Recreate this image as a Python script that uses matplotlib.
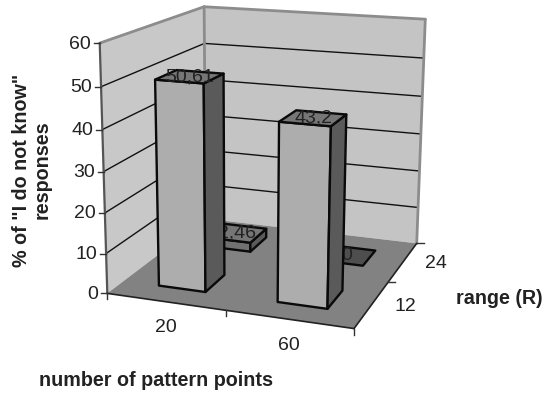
import numpy as np
import matplotlib
matplotlib.use('Agg')
import matplotlib.pyplot as plt
from matplotlib.patches import Polygon

plt.rcParams['font.family'] = ['Liberation Sans', 'DejaVu Sans']

# chart data
point_counts = ['20', '60']
ranges = ['12', '24']
responses_r12 = [50.61, 43.2]
responses_r24 = [2.46, 0]
z_ticks = [0, 10, 20, 30, 40, 50, 60]
z_max = 60

WALL_LEFT = '#c8c8c8'
WALL_BACK = '#c4c4c4'
FLOOR = '#828282'
EDGE = '#8c8c8c'
BAR_SIDE = '#5a5a5a'
BAR_TOP = '#767676'
BAR_WIDTH = 0.4
BAR_DEPTH = 0.4
BAR_SHIFT = 0.008

# box corners (column, row, height) and where they land on the canvas
corners_3d = np.array([(0, 0, 0), (2, 0, 0), (2, 2, 0), (0, 2, 0),
                       (0, 0, 1), (0, 2, 1), (2, 2, 1)], dtype=float)
corners_px = np.array([(108, 294), (354, 328), (417, 244), (205, 218),
                       (99, 43), (205, 7), (425, 19)], dtype=float)


def fit_camera(world, image):
    rows = []
    for (x, y, z), (u, v) in zip(world, image / 500):
        rows.append([x, y, z, 1, 0, 0, 0, 0, -u * x, -u * y, -u * z, -u])
        rows.append([0, 0, 0, 0, x, y, z, 1, -v * x, -v * y, -v * z, -v])
    return np.linalg.svd(np.array(rows))[2][-1].reshape(3, 4)


camera = fit_camera(corners_3d, corners_px)


def project(x, y, value):
    u, v, w = camera @ np.array([x, y, value / z_max, 1.0])
    return 500 * u / w, 500 * v / w


def face(ax, points, color, lw=0.0, edge='none', zorder=1):
    ax.add_patch(Polygon([project(*p) for p in points], closed=True, facecolor=color,
                         edgecolor=edge, linewidth=lw, joinstyle='round', zorder=zorder))


def segment(ax, a, b, color='#111111', lw=1.0, zorder=2):
    pa, pb = project(*a), project(*b)
    ax.plot([pa[0], pb[0]], [pa[1], pb[1]], color=color, lw=lw, zorder=zorder,
            solid_capstyle='round')


def draw_bar(ax, col, row, value, front_color, zorder):
    cx, cy = col + 0.5 + BAR_SHIFT, row + 0.5 - BAR_SHIFT
    x0, x1 = cx - BAR_WIDTH / 2, cx + BAR_WIDTH / 2
    y0, y1 = cy - BAR_DEPTH / 2, cy + BAR_DEPTH / 2
    style = dict(edge='#0a0a0a', lw=1.7, zorder=zorder)
    if value > 0:
        face(ax, [(x0, y0, 0), (x1, y0, 0), (x1, y0, value), (x0, y0, value)], front_color, **style)
        face(ax, [(x1, y0, 0), (x1, y1, 0), (x1, y1, value), (x1, y0, value)], BAR_SIDE, **style)
    face(ax, [(x0, y0, value), (x1, y0, value), (x1, y1, value), (x0, y1, value)],
         BAR_TOP if value > 0 else '#4e4e4e', **style)
    u, v = project(cx, cy, value)
    ax.text(u, v, f'{value:g}'.replace('.', ','), ha='center', va='center',
            fontsize=14, color='#222222', zorder=zorder)


fig = plt.figure(figsize=(5.49, 3.94), dpi=100)
ax = fig.add_axes([0, 0, 1, 1])
ax.set_xlim(0, 549)
ax.set_ylim(394, 0)
ax.axis('off')

# walls and floor
face(ax, [(0, 0, 0), (0, 2, 0), (0, 2, z_max), (0, 0, z_max)], WALL_LEFT)
face(ax, [(0, 2, 0), (2, 2, 0), (2, 2, z_max), (0, 2, z_max)], WALL_BACK)
face(ax, [(0, 0, 0), (2, 0, 0), (2, 2, 0), (0, 2, 0)], FLOOR)

for z in z_ticks[1:-1]:
    segment(ax, (0, 0, z), (0, 2, z))
    segment(ax, (0, 2, z), (2, 2, z))

segment(ax, (0, 0, z_max), (0, 2, z_max), EDGE, 2.0)
segment(ax, (0, 2, z_max), (2, 2, z_max), EDGE, 2.0)
segment(ax, (0, 2, 0), (0, 2, z_max), EDGE, 2.0)
segment(ax, (2, 2, 0), (2, 2, z_max), EDGE, 2.0)
segment(ax, (0, 0, 0), (0, 0, z_max), '#555555', 1.6)
segment(ax, (0, 0, 0), (2, 0, 0), '#222222', 1.2)
segment(ax, (2, 0, 0), (2, 2, 0), '#222222', 1.2)

# height axis ticks and labels
for z in z_ticks:
    u, v = project(0, 0, z)
    ax.plot([u - 6, u], [v, v], color='#333333', lw=1.0, zorder=2)
    ax.text(u - 9, v + 1, str(z), ha='right', va='center', fontsize=14, color='#222222')

# floor ticks and labels
for col in range(3):
    u, v = project(col, 0, 0)
    ax.plot([u, u], [v, v + 6], color='#333333', lw=1.0, zorder=2)
for row in range(1, 3):
    u, v = project(2, row, 0)
    ax.plot([u, u + 7], [v, v], color='#333333', lw=1.0, zorder=2)
for col, label in enumerate(point_counts):
    u, v = project(col + 0.5, 0, 0)
    ax.text(u, v + 26, label, ha='center', va='center', fontsize=14, color='#222222')
for row, label in enumerate(ranges):
    u, v = project(2, row + 0.5, 0)
    ax.text(u + 33, v + 2, label, ha='center', va='center', fontsize=14, color='#222222')

# back row first so the front bars cover it
for col, value in enumerate(responses_r24):
    draw_bar(ax, col, 1, value, '#707070', 3)
for col, value in enumerate(responses_r12):
    draw_bar(ax, col, 0, value, '#adadad', 4)

ax.text(32, 170, '% of "I do not know"\nresponses', rotation=90, ha='center', va='center',
        fontsize=14.2, fontweight='bold', color='#222222', linespacing=1.15, multialignment='center')
ax.text(499, 298, 'range (R)', ha='center', va='center', fontsize=14.2, fontweight='bold', color='#222222')
ax.text(156, 381, 'number of pattern points', ha='center', va='center', fontsize=14.2,
        fontweight='bold', color='#222222')

fig.savefig('out.png', dpi=100)
